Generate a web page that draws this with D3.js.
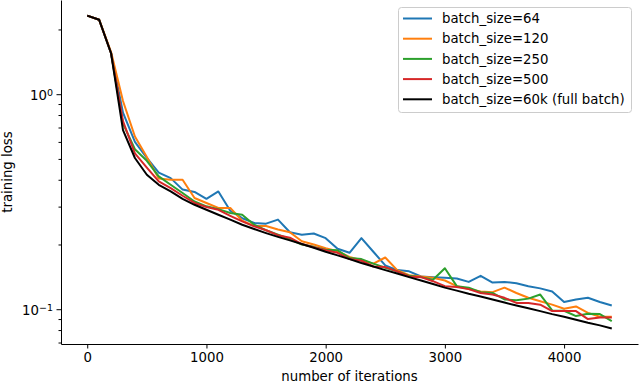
<!DOCTYPE html>
<html lang="en">
<head>
<meta charset="UTF-8">
<title>training loss vs iterations</title>
<script src="https://d3js.org/d3.v7.min.js"></script>
<style>
    body { margin: 0; background: #fff; }
    svg { display: block; font-family: "DejaVu Sans", sans-serif; }
    .axis text { font-size: 13.3px; fill: #000; font-family: "DejaVu Sans", sans-serif; }
    .axis path, .axis line { stroke: #000; stroke-width: 1; }
</style>
</head>
<body>
<script>
// iterations (x) and training loss per batch size
var iterations = [0, 100, 200, 300, 400, 500, 600, 700, 800, 900,
    1000, 1100, 1200, 1300, 1400, 1500, 1600, 1700, 1800, 1900,
    2000, 2100, 2200, 2300, 2400, 2500, 2600, 2700, 2800, 2900,
    3000, 3100, 3200, 3300, 3400, 3500, 3600, 3700, 3800, 3900,
    4000, 4100, 4200, 4300, 4400];

var loss64 = [2.32, 2.22, 1.55, 0.82, 0.60, 0.505, 0.432, 0.407, 0.360, 0.351,
    0.326, 0.353, 0.287, 0.265, 0.252, 0.250, 0.261, 0.228, 0.222, 0.225,
    0.214, 0.191, 0.183, 0.214, 0.185, 0.160, 0.152, 0.150, 0.142, 0.141,
    0.140, 0.139, 0.134, 0.143, 0.133, 0.134, 0.132, 0.128, 0.125, 0.121,
    0.108, 0.111, 0.113, 0.108, 0.104];

var loss120 = [2.32, 2.22, 1.57, 0.93, 0.636, 0.51, 0.405, 0.400, 0.400, 0.329,
    0.312, 0.296, 0.296, 0.258, 0.244, 0.244, 0.235, 0.228, 0.207, 0.200,
    0.192, 0.186, 0.175, 0.169, 0.163, 0.174, 0.152, 0.144, 0.142, 0.140,
    0.136, 0.128, 0.124, 0.121, 0.120, 0.126, 0.119, 0.113, 0.109, 0.105,
    0.1005, 0.103, 0.0962, 0.0922, 0.0922];

var loss250 = [2.32, 2.22, 1.55, 0.73, 0.555, 0.49, 0.415, 0.379, 0.347, 0.317,
    0.301, 0.292, 0.280, 0.275, 0.247, 0.233, 0.222, 0.212, 0.200, 0.195,
    0.189, 0.188, 0.173, 0.171, 0.163, 0.156, 0.150, 0.143, 0.141, 0.137,
    0.155, 0.128, 0.126, 0.120, 0.119, 0.111, 0.110, 0.112, 0.117, 0.0987,
    0.0984, 0.0929, 0.0953, 0.0949, 0.0881];

var loss500 = [2.32, 2.22, 1.55, 0.75, 0.53, 0.455, 0.393, 0.366, 0.337, 0.312,
    0.299, 0.290, 0.272, 0.256, 0.243, 0.233, 0.221, 0.215, 0.201, 0.194,
    0.188, 0.183, 0.171, 0.168, 0.158, 0.157, 0.150, 0.142, 0.141, 0.135,
    0.128, 0.127, 0.124, 0.119, 0.117, 0.113, 0.107, 0.107, 0.105, 0.098,
    0.098, 0.098, 0.090, 0.0916, 0.0916];

var lossFull = [2.32, 2.22, 1.55, 0.68, 0.505, 0.422, 0.379, 0.353, 0.326, 0.306,
    0.290, 0.275, 0.261, 0.247, 0.236, 0.226, 0.217, 0.209, 0.201, 0.193,
    0.185, 0.178, 0.171, 0.164, 0.158, 0.152, 0.1465, 0.141, 0.136, 0.131,
    0.126, 0.122, 0.118, 0.1146, 0.111, 0.1074, 0.104, 0.101, 0.098, 0.0949,
    0.0922, 0.0893, 0.0865, 0.0841, 0.0814];

var seriesNames = ["batch_size=64", "batch_size=120", "batch_size=250",
    "batch_size=500", "batch_size=60k (full batch)"];
var seriesColors = ["#1f77b4", "#ff7f0e", "#2ca02c", "#d62728", "#000000"];
var seriesValues = [loss64, loss120, loss250, loss500, lossFull];

var xTicks = [0, 1000, 2000, 3000, 4000];
var yMajorTicks = [0.1, 1];
var yMajorExponents = ["\u22121", "0"];
var yMinorTicks = [0.07, 0.08, 0.09, 0.2, 0.3, 0.4, 0.5, 0.6, 0.7, 0.8, 0.9, 2];

var w = 640, h = 384;
var plotLeft = 61, plotRight = 638, plotTop = 0, plotBottom = 344;

var svg = d3.select("body").append("svg")
    .attr("width", w)
    .attr("height", h);

var x = d3.scaleLinear().domain([-220, 4620]).range([plotLeft, plotRight]);
var y = d3.scaleLog().domain([0.0689, 2.742]).range([plotBottom, plotTop]);

// axes
svg.append("g")
    .attr("class", "axis")
    .attr("transform", "translate(0," + plotBottom + ")")
    .call(d3.axisBottom(x).tickValues(xTicks).tickSize(4.5).tickSizeOuter(0)
        .tickPadding(4).tickFormat(d3.format("d")));

var yMinor = svg.append("g")
    .attr("class", "axis")
    .attr("transform", "translate(" + plotLeft + ",0)")
    .call(d3.axisLeft(y).tickValues(yMinorTicks).tickSize(2.5).tickSizeOuter(0).tickFormat(""));
yMinor.select(".domain").remove();

var yAxis = svg.append("g")
    .attr("class", "axis")
    .attr("transform", "translate(" + plotLeft + ",0)")
    .call(d3.axisLeft(y).tickValues(yMajorTicks).tickSize(4.5).tickSizeOuter(0).tickFormat(""));

yAxis.selectAll(".tick text").each(function(d) {
    var t = d3.select(this);
    t.text("10").attr("x", -8).attr("dy", "0.42em");
    t.append("tspan")
        .attr("dy", "-0.5em")
        .attr("font-size", "9.5px")
        .text(yMajorExponents[yMajorTicks.indexOf(d)]);
});

// lines
var line = d3.line()
    .x(function(d, i) { return x(iterations[i]); })
    .y(function(d) { return y(d); });

seriesValues.forEach(function(vals, k) {
    svg.append("path")
        .datum(vals)
        .attr("fill", "none")
        .attr("stroke", seriesColors[k])
        .attr("stroke-width", 2)
        .attr("stroke-linejoin", "round")
        .attr("d", line);
});

// axis labels
svg.append("text")
    .attr("x", (plotLeft + plotRight) / 2)
    .attr("y", 381)
    .attr("text-anchor", "middle")
    .attr("font-size", "13.3px")
    .text("number of iterations");

svg.append("text")
    .attr("transform", "translate(12," + ((plotTop + plotBottom) / 2) + ") rotate(-90)")
    .attr("text-anchor", "middle")
    .attr("font-size", "13.3px")
    .text("training loss");

// legend
var legend = svg.append("g");
legend.append("rect")
    .attr("x", 398.5).attr("y", 7.5)
    .attr("width", 233).attr("height", 105)
    .attr("rx", 3)
    .attr("fill", "#fff").attr("fill-opacity", 0.8)
    .attr("stroke", "#cccccc");

seriesNames.forEach(function(name, k) {
    var ry = 18.5 + k * 20.2;
    legend.append("line")
        .attr("x1", 403).attr("x2", 432)
        .attr("y1", ry).attr("y2", ry)
        .attr("stroke", seriesColors[k])
        .attr("stroke-width", 2);
    legend.append("text")
        .attr("x", 442).attr("y", ry)
        .attr("dy", "0.35em")
        .attr("font-size", "13.3px")
        .text(name);
});
</script>
</body>
</html>
